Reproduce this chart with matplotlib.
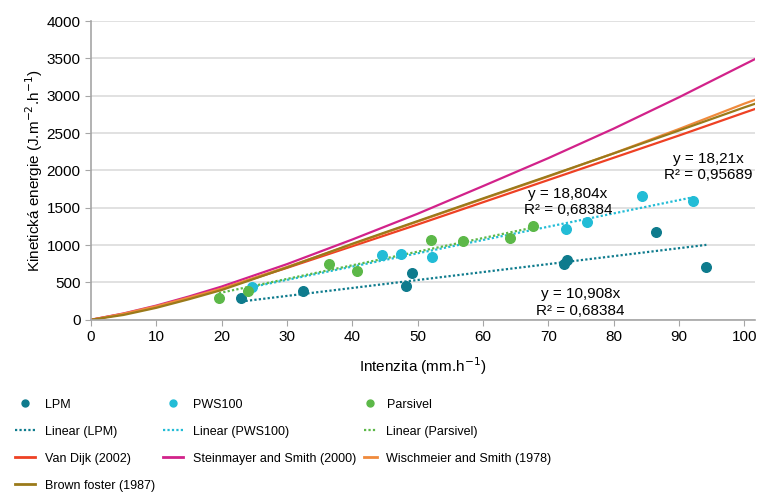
import numpy as np
import matplotlib
matplotlib.use('Agg')
import matplotlib.pyplot as plt
from matplotlib.lines import Line2D

# measured points (intensity mm/h, kinetic energy J/m2/h)
lpm_x = [23.0, 32.5, 48.3, 49.2, 72.4, 72.9, 86.5, 94.2]
lpm_y = [298, 392, 459, 625, 745, 803, 1181, 713]
pws_x = [24.7, 44.5, 47.4, 52.2, 72.7, 76.0, 84.4, 92.2]
pws_y = [446, 865, 879, 839, 1217, 1307, 1659, 1596]
par_x = [19.6, 24.1, 36.5, 40.7, 52.1, 57.0, 64.1, 67.6]
par_y = [290, 388, 745, 651, 1066, 1053, 1097, 1253]

# model curves
model_i = [0, 5, 10, 15, 20, 30, 40, 50, 60, 70, 80, 90, 100, 101.6]
van_dijk = [0, 78, 175, 290, 415, 695, 985, 1276, 1574, 1872, 2170, 2468, 2774, 2822]
steinmayer = [0, 85, 190, 312, 445, 745, 1075, 1420, 1790, 2165, 2560, 2980, 3420, 3490]
wischmeier = [0, 82, 182, 298, 418, 708, 1010, 1315, 1618, 1918, 2230, 2555, 2895, 2945]
brown = [0, 65, 160, 275, 398, 700, 1018, 1322, 1625, 1925, 2228, 2535, 2845, 2892]

lbl_lpm = ('y = 10,908x', 'R² = 0,68384')
lbl_pws = ('y = 18,21x', 'R² = 0,95689')
lbl_par = ('y = 18,804x', 'R² = 0,68384')

c_lpm = '#0e7b8d'
c_pws = '#22bcd6'
c_par = '#5cb848'
c_vd = '#ee4124'
c_st = '#d2228a'
c_ws = '#f08a3c'
c_bf = '#9a7a1a'

plt.rcParams['font.family'] = ['Liberation Sans', 'DejaVu Sans']

fig = plt.figure(figsize=(7.57, 4.92), dpi=100)
ax = fig.add_axes([0.120, 0.350, 0.877, 0.607])


def trend(x, y):
    x = np.array(x, float)
    y = np.array(y, float)
    k = (x * y).sum() / (x * x).sum()
    xs = np.array([x.min(), x.max()])
    return xs, k * xs


ax.scatter(lpm_x, lpm_y, s=48, color=c_lpm, zorder=3)
ax.scatter(pws_x, pws_y, s=48, color=c_pws, zorder=3)
ax.scatter(par_x, par_y, s=48, color=c_par, zorder=3)

dot = (0, (1, 1))
tx, ty = trend(lpm_x, lpm_y)
ax.plot(tx, ty, color=c_lpm, ls=dot, lw=1.6, zorder=2)
tx, ty = trend(pws_x, pws_y)
ax.plot(tx, ty, color=c_pws, ls=dot, lw=1.6, zorder=2)
tx, ty = trend(par_x, par_y)
ax.plot(tx, ty, color=c_par, ls=dot, lw=1.6, zorder=2)

ax.plot(model_i, van_dijk, color=c_vd, lw=1.6, zorder=2)
ax.plot(model_i, steinmayer, color=c_st, lw=1.6, zorder=2)
ax.plot(model_i, wischmeier, color=c_ws, lw=1.6, zorder=2)
ax.plot(model_i, brown, color=c_bf, lw=1.6, zorder=2)

# trendline equations
for (x, y), lbl in [((74.9, 231), lbl_lpm), ((94.5, 2051), lbl_pws), ((73.0, 1579), lbl_par)]:
    ax.text(x, y, lbl[0] + '\n' + lbl[1], ha='center', va='center',
            fontsize=11, linespacing=1.2)

ax.set_xlim(0, 101.6)
ax.set_ylim(0, 4000)
ax.set_xticks(range(0, 101, 10))
ax.set_yticks(range(0, 4001, 500))
ax.grid(axis='y', color='#dcdcdc', lw=1.2)
ax.set_axisbelow(True)
for s in ['top', 'right']:
    ax.spines[s].set_visible(False)
for s in ['left', 'bottom']:
    ax.spines[s].set_color('#a6a6a6')
    ax.spines[s].set_linewidth(1.2)
ax.tick_params(axis='both', colors='#a6a6a6', labelcolor='black', labelsize=11, length=4)

ax.set_ylabel('Kinetická energie (J.m$^{-2}$.h$^{-1}$)', fontsize=11, labelpad=1)
ax.set_xlabel('Intenzita (mm.h$^{-1}$)', fontsize=11, labelpad=8)


def pt(c):
    return Line2D([], [], ls='none', marker='o', ms=5, color=c)


def ln(c, ls='-'):
    return Line2D([], [], ls=ls, lw=2 if ls == '-' else 1.6, color=c)


columns = [
    ([pt(c_lpm), ln(c_lpm, dot), ln(c_vd), ln(c_bf)],
     ['LPM', 'Linear (LPM)', 'Van Dijk (2002)', 'Brown foster (1987)'], 15, 1.6),
    ([pt(c_pws), ln(c_pws, dot), ln(c_st)],
     ['PWS100', 'Linear (PWS100)', 'Steinmayer and Smith (2000)'], 163, 1.6),
    ([pt(c_par), ln(c_par, dot), ln(c_ws)],
     ['Parsivel', 'Linear (Parsivel)', 'Wischmeier and Smith (1978)'], 364, 1.0),
]
for hs, ls_, xpx, hl in columns:
    fig.legend(hs, ls_, loc='upper left', bbox_to_anchor=(xpx / 757, 0.190),
               frameon=False, prop={'size': 9}, borderpad=0, borderaxespad=0,
               handlelength=hl, handletextpad=0.8, labelspacing=1.2)

fig.savefig('out.png', dpi=100)
